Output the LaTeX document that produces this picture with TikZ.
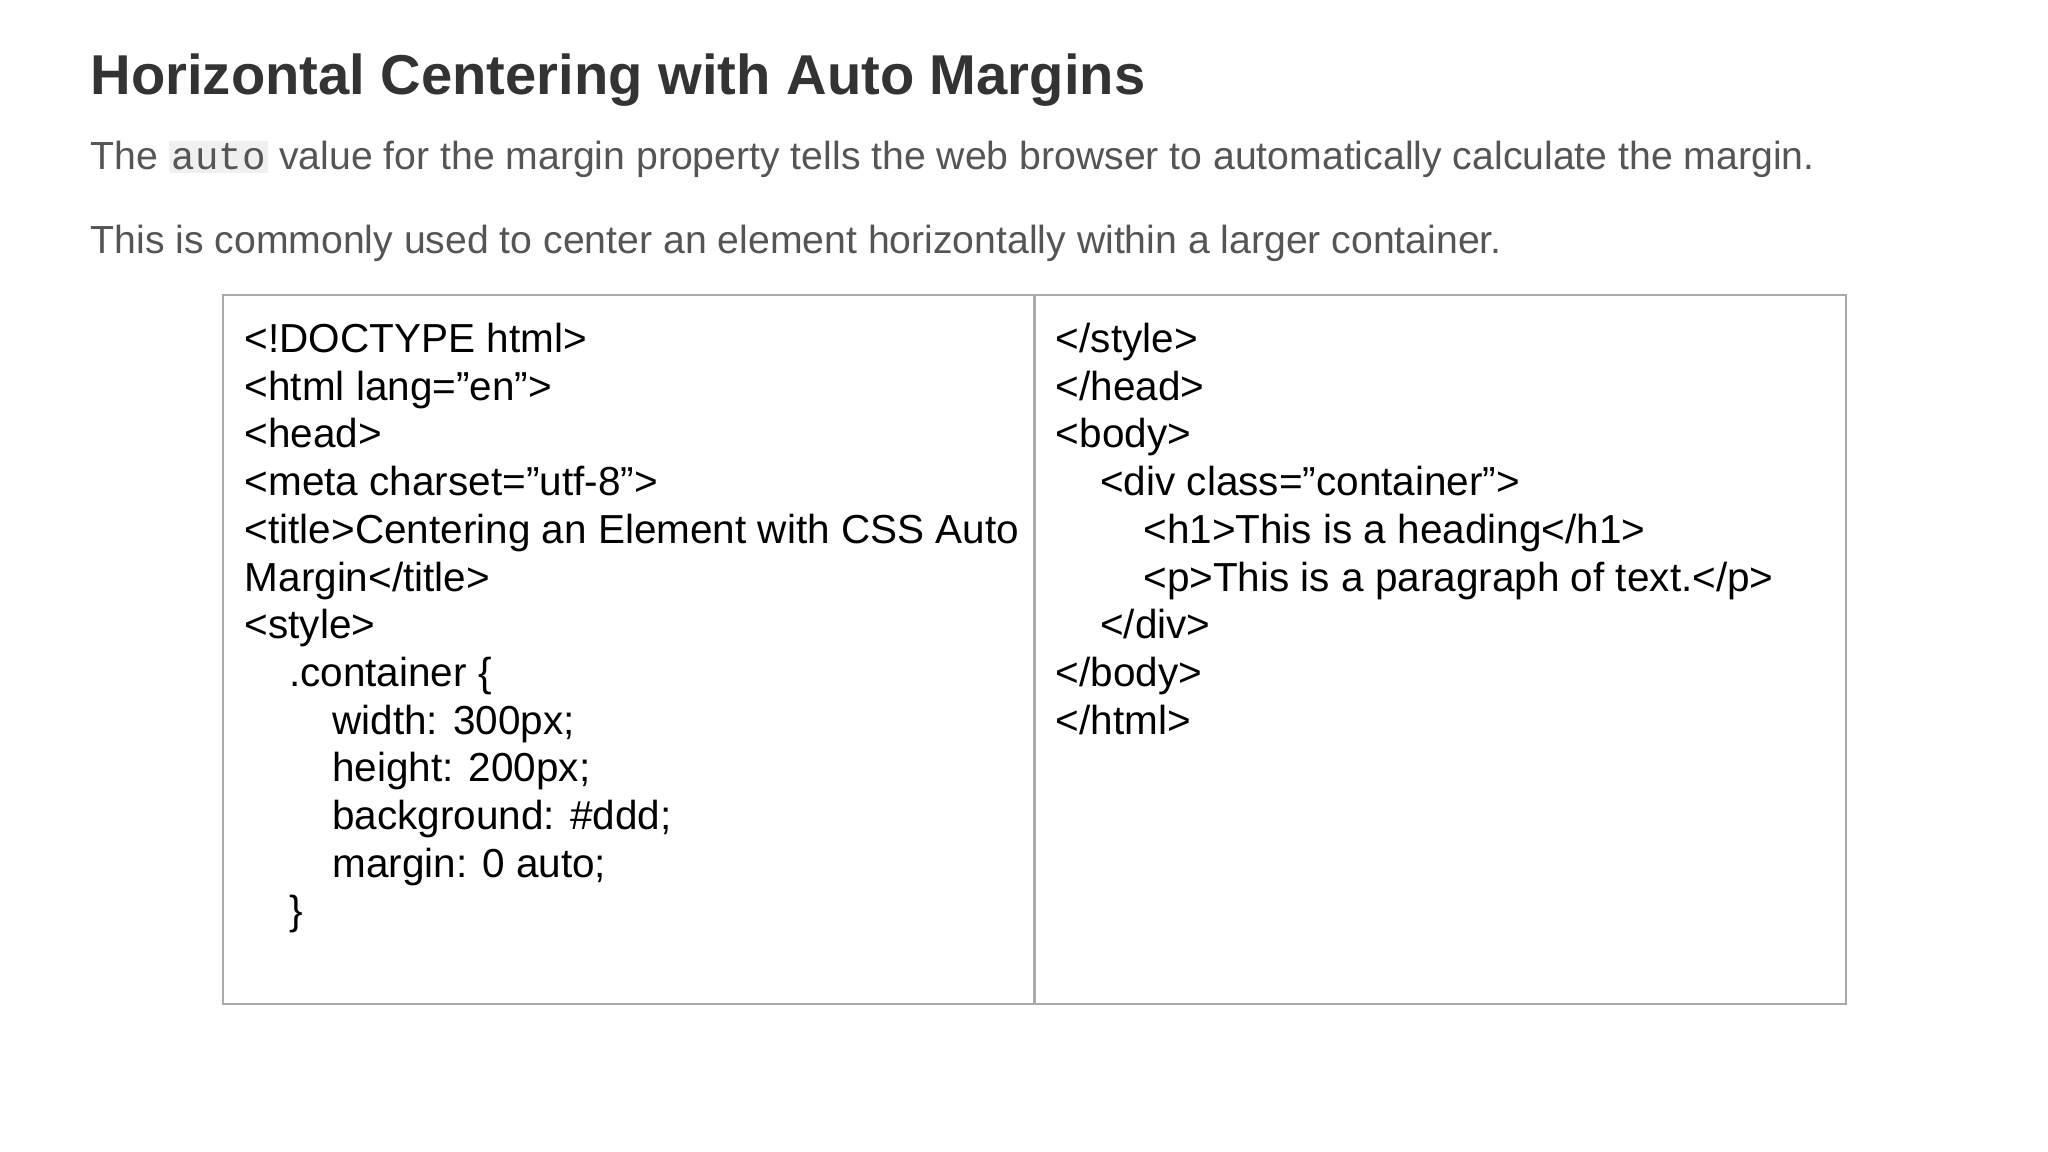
\documentclass[tikz,border=0pt]{standalone}
\usepackage{fontspec}
\setmainfont{Liberation Sans}
\setmonofont{Liberation Mono}
\usepackage{xcolor}
\definecolor{titlegray}{HTML}{333333}
\definecolor{textgray}{HTML}{555555}
\definecolor{codebg}{HTML}{F0F0F0}
\definecolor{boxgray}{HTML}{AAAAAA}
\newcommand{\inlinecode}[1]{{\setlength{\fboxsep}{1pt}\colorbox{codebg}{\ttfamily #1}}}

\tikzset{
  heading/.style={anchor=base west, inner sep=0pt, font=\fontsize{21.5}{26}\selectfont\bfseries, text=titlegray},
  para/.style={anchor=base west, inner sep=0pt, font=\fontsize{15}{18}\selectfont, text=textgray},
  code/.style={anchor=base west, inner sep=0pt, font=\fontsize{15.5}{18}\selectfont, text=black},
  frame/.style={draw=boxgray, line width=0.8pt}
}

\begin{document}
\begin{tikzpicture}[x=0.5pt,y=-0.5pt]
\useasboundingbox (0,0) rectangle (1568,882);

% heading and text
\node[heading] (title) at (69,72) {Horizontal Centering with Auto Margins};
\node[para] (intro) at (69,130) {The \inlinecode{auto} value for the margin property tells the web browser to automatically calculate the margin.};
\node[para] (usage) at (69,194) {This is commonly used to center an element horizontally within a larger container.};

% table
\draw[frame] (171,226) rectangle (1413,769);
\draw[frame] (792,226) -- (792,769);

% left column
\node[code] (l1) at (187,270) {<!DOCTYPE html>};
\node[code] (l2) at (187,306.5) {<html lang="en">};
\node[code] (l3) at (187,343) {<head>};
\node[code] (l4) at (187,379.5) {<meta charset="utf-8">};
\node[code] (l5) at (187,416) {<title>Centering an Element with CSS Auto};
\node[code] (l6) at (187,452.5) {Margin</title>};
\node[code] (l7) at (187,489) {<style>};
\node[code] (l8) at (221,525.5) {.container \{};
\node[code] (l9) at (254,562) {width: 300px;};
\node[code] (l10) at (254,598.5) {height: 200px;};
\node[code] (l11) at (254,635) {background: \#ddd;};
\node[code] (l12) at (254,671.5) {margin: 0 auto;};
\node[code] (l13) at (221,708) {\}};

% right column
\node[code] (r1) at (808,270) {</style>};
\node[code] (r2) at (808,306.5) {</head>};
\node[code] (r3) at (808,343) {<body>};
\node[code] (r4) at (842,379.5) {<div class="container">};
\node[code] (r5) at (875,416) {<h1>This is a heading</h1>};
\node[code] (r6) at (875,452.5) {<p>This is a paragraph of text.</p>};
\node[code] (r7) at (842,489) {</div>};
\node[code] (r8) at (808,525.5) {</body>};
\node[code] (r9) at (808,562) {</html>};
\end{tikzpicture}
\end{document}
